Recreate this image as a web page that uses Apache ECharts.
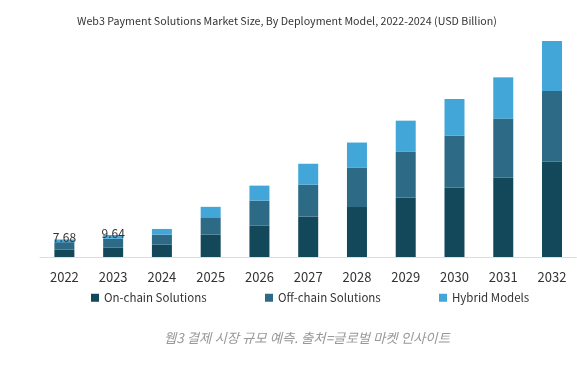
<!DOCTYPE html>
<html><head><meta charset="utf-8">
<script src="https://cdn.jsdelivr.net/npm/echarts@6/dist/echarts.min.js"></script>
<style>html,body{margin:0;padding:0;background:#fff}#c{width:577px;height:366px}</style>
</head><body><div id="c"></div>
<script>
var years = ['2022','2023','2024','2025','2026','2027','2028','2029','2030','2031','2032'];
var onChain = [3.2, 4.2, 5.4, 9.8, 13.7, 17.7, 21.9, 26.1, 30.5, 34.8, 41.8];
var offChain = [3.3, 3.8, 4.4, 7.6, 11.0, 14.0, 17.2, 20.0, 22.8, 25.9, 31.0];
var hybrid = [1.18, 1.64, 2.5, 4.6, 6.6, 9.2, 11.1, 13.7, 16.0, 18.1, 21.9];
var totalLabels = ['7.68', '9.64', '', '', '', '', '', '', '', '', ''];
var seriesNames = ['On-chain Solutions', 'Off-chain Solutions', 'Hybrid Models'];
var titleText = 'Web3 Payment Solutions Market Size, By Deployment Model, 2022-2024 (USD Billion)';
var captionText = '웹3 결제 시장 규모 예측. 출처=글로벌 마켓 인사이트';

var FONT = '"Noto Sans CJK KR", "Noto Sans", sans-serif';
var colors = ['#124859', '#2d6a85', '#43a6d9'];
var chart = echarts.init(document.getElementById('c'), null, {renderer: 'canvas'});
function legend(i, left) {
  return {data: [seriesNames[i]], left: left, top: 292, itemWidth: 8, itemHeight: 8, icon: 'rect',
    textStyle: {fontFamily: FONT, fontSize: 11.5, color: '#333'}, itemGap: 0, padding: 0, selectedMode: false};
}
chart.setOption({
  animation: false,
  color: colors,
  title: {text: titleText, left: 77, top: 16, padding: 0,
    textStyle: {fontFamily: FONT, fontSize: 10.7, fontWeight: 'normal', color: '#333'}},
  legend: [legend(0, 91), legend(1, 265), legend(2, 439)],
  graphic: [{type: 'text', left: 164, top: 331,
    style: {text: captionText, fill: '#999', font: 'italic 13.4px ' + FONT}}],
  grid: {left: 40, right: 0.6, top: 29, bottom: 109, containLabel: false},
  xAxis: {type: 'category', data: years,
    axisLine: {lineStyle: {color: '#ddd', width: 1}}, axisTick: {show: false},
    axisLabel: {fontFamily: FONT, fontSize: 13, color: '#333', margin: 14}},
  yAxis: {type: 'value', min: 0, max: 100, show: false, splitLine: {show: false}},
  series: [
    {name: seriesNames[0], type: 'bar', stack: 's', data: onChain, barWidth: 20},
    {name: seriesNames[1], type: 'bar', stack: 's', data: offChain, barWidth: 20},
    {name: seriesNames[2], type: 'bar', stack: 's', data: hybrid, barWidth: 20,
      label: {show: true, position: 'top', distance: -4,
        formatter: function (p) { return totalLabels[p.dataIndex]; },
        fontFamily: FONT, fontSize: 12, color: '#333'}}
  ]
});
</script></body></html>
